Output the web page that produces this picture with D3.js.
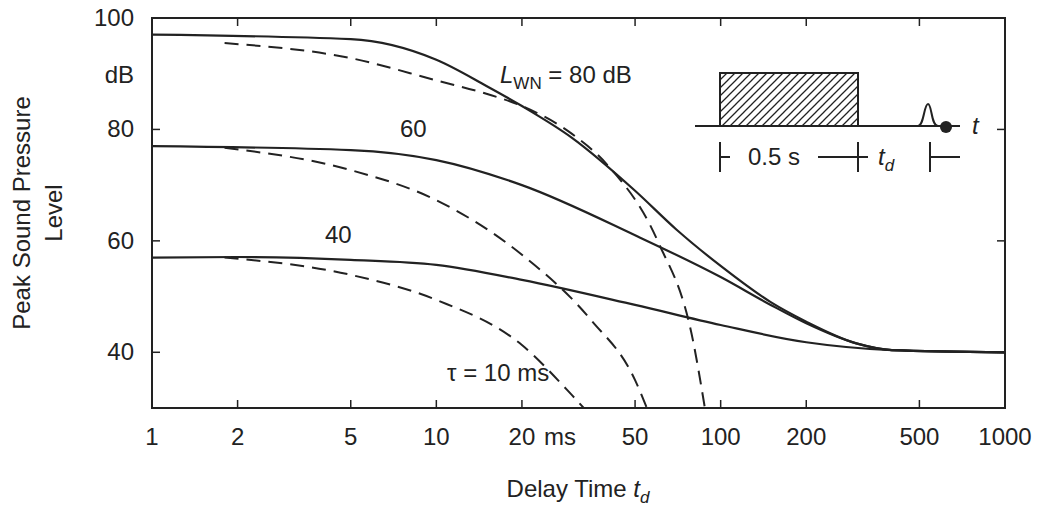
<!DOCTYPE html><html><head><script src="https://cdn.jsdelivr.net/npm/d3@7"></script>
<style>body{margin:0;background:#fff}text{font-family:"Liberation Sans",Arial,sans-serif;fill:#222}</style></head><body>
<svg id="c" width="1042" height="513"></svg>
<script>
const xTicks=[1,2,5,10,20,50,100,200,500,1000];
const yTicks=[40,60,80];
const solid80=[[1,97],[5,96.2],[10,92.5],[15,87.8],[20,84.2],[30,78.5],[50,69],[70,62],[100,55.5],[150,49],[200,45.5],[300,41.6],[400,40.4],[1000,40]];
const solid60=[[1,77],[5,76.3],[10,74.5],[20,70],[50,61],[100,53.5],[150,48.5],[200,45.2],[300,41.6],[400,40.4],[1000,40]];
const solid40=[[1,57],[2,57.1],[5,56.6],[10,55.7],[20,53],[50,48.5],[100,44.9],[200,41.8],[400,40.4],[1000,40]];
const dash80=[[1.8,95.5],[5,92.8],[10,88.8],[15,86.4],[20,84.2],[30,79.2],[40,73.6],[60,60],[80,42],[88,30]];
const dash60=[[1.8,76.7],[5,72.7],[10,67.3],[20,57.5],[35,45.8],[50,35],[55,30]];
const dash40=[[1.8,57],[5,53.9],[10,49.4],[20,41.3],[30,32.3],[33,30]];
const svg=d3.select("#c");
const L=152,R=1005,T=18,B=408;
const x=d3.scaleLog().domain([1,1000]).range([L,R]);
const y=d3.scaleLinear().domain([30,100]).range([B,T]);
svg.append("rect").attr("x",L).attr("y",T).attr("width",R-L).attr("height",B-T).attr("fill","none").attr("stroke","#222").attr("stroke-width",2);
xTicks.forEach(t=>{[[B,-8],[T,8]].forEach(([yy,d])=>svg.append("line").attr("x1",x(t)).attr("x2",x(t)).attr("y1",yy).attr("y2",yy+d).attr("stroke","#222").attr("stroke-width",1.5));
 svg.append("text").attr("x",x(t)).attr("y",445).attr("text-anchor","middle").attr("font-size",24).text(t);});
svg.append("text").attr("x",560).attr("y",445).attr("text-anchor","middle").attr("font-size",24).text("ms");
yTicks.forEach(t=>{[[L,8],[R,-8]].forEach(([xx,d])=>svg.append("line").attr("x1",xx).attr("x2",xx+d).attr("y1",y(t)).attr("y2",y(t)).attr("stroke","#222").attr("stroke-width",1.5));
 svg.append("text").attr("x",134).attr("y",y(t)+8).attr("text-anchor","end").attr("font-size",24).text(t);});
svg.append("text").attr("x",134).attr("y",26).attr("text-anchor","end").attr("font-size",24).text("100");
svg.append("text").attr("x",134).attr("y",83).attr("text-anchor","end").attr("font-size",24).text("dB");
const g=svg.append("g").attr("transform","translate(30,213) rotate(-90)");
g.append("text").attr("text-anchor","middle").attr("font-size",24).text("Peak Sound Pressure");
g.append("text").attr("y",32).attr("text-anchor","middle").attr("font-size",24).text("Level");
const xt=svg.append("text").attr("x",578).attr("y",497).attr("text-anchor","middle").attr("font-size",24);
xt.append("tspan").text("Delay Time ");xt.append("tspan").attr("font-style","italic").text("t");
xt.append("tspan").attr("font-style","italic").attr("font-size",17).attr("dy",6).text("d");
const line=d3.line().x(d=>x(d[0])).y(d=>y(d[1])).curve(d3.curveMonotoneX);
svg.append("clipPath").attr("id","cp").append("rect").attr("x",L).attr("y",T).attr("width",R-L).attr("height",B-T);
[solid80,solid60,solid40].forEach(s=>svg.append("path").attr("d",line(s)).attr("fill","none").attr("stroke","#222").attr("stroke-width",2.2).attr("clip-path","url(#cp)"));
[dash80,dash60,dash40].forEach(s=>svg.append("path").attr("d",line(s)).attr("fill","none").attr("stroke","#222").attr("stroke-width",2).attr("stroke-dasharray","14,8").attr("clip-path","url(#cp)"));
const lw=svg.append("text").attr("x",500).attr("y",83).attr("font-size",24);
lw.append("tspan").attr("font-style","italic").text("L");
lw.append("tspan").attr("font-size",17).attr("dy",6).text("WN");
lw.append("tspan").attr("dy",-6).text(" = 80 dB");
svg.append("text").attr("x",400).attr("y",137).attr("font-size",24).text("60");
svg.append("text").attr("x",325).attr("y",243).attr("font-size",24).text("40");
svg.append("text").attr("x",447).attr("y",381).attr("font-size",24).text("τ = 10 ms");
const pat=svg.append("defs").append("pattern").attr("id","h").attr("patternUnits","userSpaceOnUse").attr("width",8).attr("height",8);
pat.append("path").attr("d","M-2,10 L10,-2 M-2,2 L2,-2 M6,10 L10,6").attr("stroke","#222").attr("stroke-width",1.3);
svg.append("rect").attr("x",720).attr("y",73).attr("width",138).attr("height",53).attr("fill","url(#h)").attr("stroke","#222").attr("stroke-width",2);
svg.append("line").attr("x1",695).attr("x2",960).attr("y1",126).attr("y2",126).attr("stroke","#222").attr("stroke-width",2);
svg.append("path").attr("d","M918,126 C924,126 924,104 928,104 C932,104 931,126 938,126").attr("fill","none").attr("stroke","#222").attr("stroke-width",2);
svg.append("circle").attr("cx",946).attr("cy",127).attr("r",6).attr("fill","#222");
svg.append("text").attr("x",972).attr("y",134).attr("font-size",24).attr("font-style","italic").text("t");
[720,858,930].forEach(v=>svg.append("line").attr("x1",v).attr("x2",v).attr("y1",142).attr("y2",172).attr("stroke","#222").attr("stroke-width",2));
[[720,730],[818,858],[858,868],[930,960]].forEach(([a,b])=>svg.append("line").attr("x1",a).attr("x2",b).attr("y1",157).attr("y2",157).attr("stroke","#222").attr("stroke-width",2));
svg.append("text").attr("x",774).attr("y",165).attr("text-anchor","middle").attr("font-size",24).text("0.5 s");
const td=svg.append("text").attr("x",878).attr("y",165).attr("font-size",24).attr("font-style","italic");
td.append("tspan").text("t");td.append("tspan").attr("font-size",17).attr("dy",6).text("d");
</script></body></html>
